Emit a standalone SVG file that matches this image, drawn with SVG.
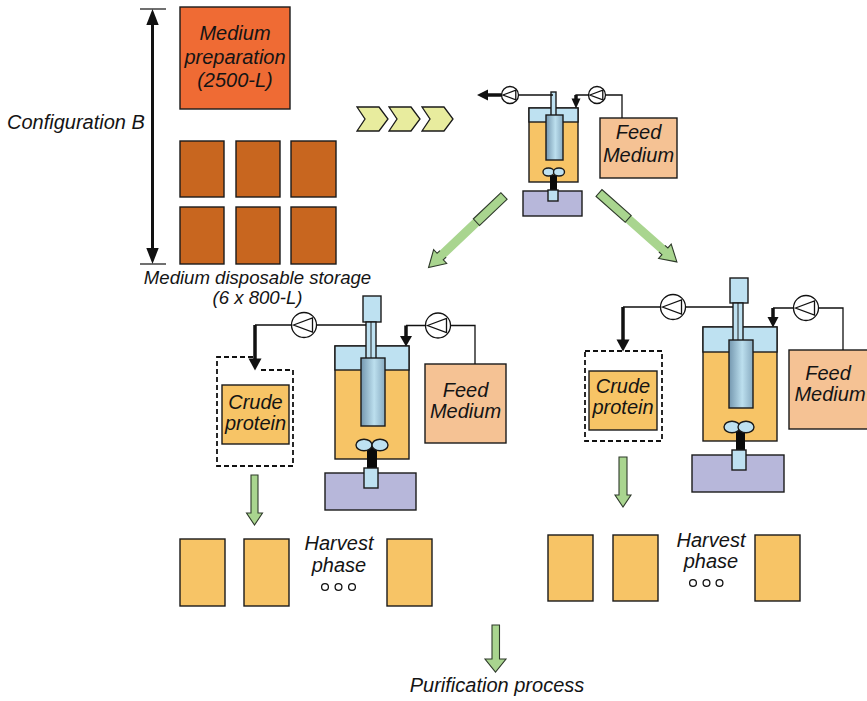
<svg xmlns="http://www.w3.org/2000/svg" xmlns:xlink="http://www.w3.org/1999/xlink" width="867" height="701" viewBox="0 0 867 701">
  <style>
    .lbl { font-family: "Liberation Sans", Arial, sans-serif; font-style: italic; font-size: 20px; fill: #141414; }
    .mid { text-anchor: middle; }
    .box { stroke: #1a1a1a; stroke-width: 1.4; }
    .prep { fill: #EF6B34; }
    .tank { fill: #C8661F; }
    .orange { fill: #F7C466; }
    .head { fill: #BEE1F1; }
    .feed { fill: #F5C294; }
    .base { fill: #B7B7DA; }
    .lb { fill: #BEE1F1; }
    .shaft { fill: #0a0a0a; }
    .thin { fill: none; stroke: #111; stroke-width: 1.3; }
    .thick { fill: none; stroke: #111; stroke-width: 3.5; }
    .dash { fill: none; stroke: #111; stroke-width: 1.8; stroke-dasharray: 5 3; }
    .green { fill: #A9D58F; }
    .gline { fill: none; stroke: #2e3a2a; stroke-width: 1.1; stroke-linejoin: miter; }
    .chev { fill: #E8EC9E; stroke: #1a1a1a; stroke-width: 1.3; }
    .pumpc { fill: #fff; stroke: #111; stroke-width: 1.3; vector-effect: non-scaling-stroke; }
    .pumpt { fill: none; stroke: #111; stroke-width: 1.3; vector-effect: non-scaling-stroke; }
  </style>
  <defs>
    <linearGradient id="probe" x1="0" y1="0" x2="1" y2="0">
      <stop offset="0" stop-color="#7497AF"/>
      <stop offset="0.55" stop-color="#BCDFEE"/>
      <stop offset="1" stop-color="#88ABC1"/>
    </linearGradient>
    <g id="pump">
      <circle r="12.5" class="pumpc"/>
      <path d="M-10.5,0 L8.5,-7 L8.5,7 Z" class="pumpt"/>
    </g>
    <path id="chevron" d="M0,0 H22 L31,12 L22,24 H0 L8,12 Z" class="chev"/>
  </defs>

  <!-- height bracket with label -->
  <g id="config-bracket">
    <line x1="140" y1="9" x2="166" y2="9" stroke="#111" stroke-width="1.2"/>
    <line x1="140" y1="264" x2="166" y2="264" stroke="#111" stroke-width="1.2"/>
    <line x1="152.5" y1="22" x2="152.5" y2="251" stroke="#111" stroke-width="3"/>
    <path d="M152.5,9 L146.3,25 L158.7,25 Z" fill="#111"/>
    <path d="M152.5,264 L146.3,248 L158.7,248 Z" fill="#111"/>
    <text class="lbl" x="7" y="129">Configuration B</text>
  </g>

  <!-- medium preparation tank -->
  <g id="medium-prep">
    <rect x="180" y="7" width="110" height="102" class="box prep"/>
    <text class="lbl mid" x="235" y="40">Medium</text>
    <text class="lbl mid" x="235" y="64">preparation</text>
    <text class="lbl mid" x="235" y="87">(2500-L)</text>
  </g>

  <!-- disposable storage bags -->
  <g id="storage-tanks">
    <rect x="180" y="141" width="44" height="56" class="box tank"/>
    <rect x="236" y="141" width="44" height="56" class="box tank"/>
    <rect x="291" y="141" width="45" height="56" class="box tank"/>
    <rect x="180" y="207" width="44" height="57" class="box tank"/>
    <rect x="236" y="207" width="44" height="57" class="box tank"/>
    <rect x="291" y="207" width="45" height="57" class="box tank"/>
    <text class="lbl mid" x="257.5" y="284" style="font-size:18.6px">Medium disposable storage</text>
    <text class="lbl mid" x="257.5" y="304" style="font-size:18.6px">(6 x 800-L)</text>
  </g>

  <!-- process flow chevrons -->
  <g id="chevrons">
    <use xlink:href="#chevron" x="357" y="107"/>
    <use xlink:href="#chevron" x="389" y="107"/>
    <use xlink:href="#chevron" x="422" y="107"/>
  </g>

  <!-- main bioreactor -->
  <g id="reactor-main">
    <rect x="529" y="108" width="49" height="74" class="box orange"/>
    <rect x="529" y="108" width="49" height="14" class="box head"/>
    <rect x="551" y="92" width="5" height="24" class="box lb" stroke-width="1"/>
    <rect x="546" y="115" width="17" height="45" class="box" fill="url(#probe)"/>
    <rect x="523" y="191" width="59" height="25" class="box base"/>
    <rect x="550" y="175" width="7" height="17" class="shaft"/>
    <rect x="548" y="190" width="10" height="11" class="box lb" stroke-width="1"/>
    <ellipse cx="548.5" cy="172" rx="5.5" ry="4" class="box lb" stroke-width="1"/>
    <ellipse cx="559" cy="172" rx="5.5" ry="4" class="box lb" stroke-width="1"/>
  </g>
  <g id="feed-main">
    <rect x="600" y="118" width="77" height="60" class="box feed"/>
    <text class="lbl mid" x="638.5" y="139">Feed</text>
    <text class="lbl mid" x="638.5" y="162">Medium</text>
  </g>

  <!-- left bioreactor -->
  <g id="reactor-left">
    <rect x="335" y="346" width="74" height="113" class="box orange"/>
    <rect x="335" y="346" width="74" height="24" class="box head"/>
    <rect x="363" y="296" width="18" height="26" class="box lb"/>
    <rect x="366" y="322" width="10" height="37" class="box lb"/>
    <line x1="371" y1="322" x2="371" y2="358" stroke="#111" stroke-width="0.9"/>
    <rect x="361" y="358" width="24" height="68" class="box" fill="url(#probe)"/>
    <rect x="325" y="473" width="91" height="37" class="box base"/>
    <rect x="367" y="447" width="10" height="23" class="shaft"/>
    <rect x="364" y="468" width="14" height="20" class="box lb"/>
    <ellipse cx="364" cy="445" rx="8" ry="5.8" class="box lb"/>
    <ellipse cx="380" cy="445" rx="8" ry="5.8" class="box lb"/>
  </g>
  <g id="feed-left">
    <rect x="425" y="364" width="81" height="79" class="box feed"/>
    <text class="lbl mid" x="465.5" y="397">Feed</text>
    <text class="lbl mid" x="465.5" y="418">Medium</text>
  </g>
  <g id="crude-left">
    <path d="M253,357 H217 V466 H293 V370 H258" class="dash"/>
    <rect x="222" y="385" width="67" height="59" class="box orange"/>
    <text class="lbl mid" x="255.5" y="409">Crude</text>
    <text class="lbl mid" x="255.5" y="430">protein</text>
  </g>

  <!-- right bioreactor -->
  <g id="reactor-right">
    <rect x="703" y="327" width="74" height="114" class="box orange"/>
    <rect x="703" y="327" width="74" height="25" class="box head"/>
    <rect x="730" y="278" width="18" height="25" class="box lb"/>
    <rect x="733" y="303" width="10" height="38" class="box lb"/>
    <line x1="738" y1="303" x2="738" y2="340" stroke="#111" stroke-width="0.9"/>
    <rect x="729" y="340" width="24" height="68" class="box" fill="url(#probe)"/>
    <rect x="692" y="455" width="92" height="37" class="box base"/>
    <rect x="736" y="430" width="9" height="22" class="shaft"/>
    <rect x="732" y="450" width="14" height="20" class="box lb"/>
    <ellipse cx="732" cy="427" rx="8" ry="5.8" class="box lb"/>
    <ellipse cx="746" cy="427" rx="8" ry="5.8" class="box lb"/>
  </g>
  <g id="feed-right">
    <rect x="789" y="350" width="80" height="79" class="box feed"/>
    <text class="lbl mid" x="828" y="380">Feed</text>
    <text class="lbl mid" x="830" y="401">Medium</text>
  </g>
  <g id="crude-right">
    <rect x="585" y="351" width="77" height="90" class="dash"/>
    <rect x="589" y="371" width="68" height="59" class="box orange"/>
    <text class="lbl mid" x="623" y="393">Crude</text>
    <text class="lbl mid" x="623" y="414">protein</text>
  </g>

  <!-- harvest tanks -->
  <g id="harvest-left">
    <rect x="180" y="539" width="45" height="67" class="box orange"/>
    <rect x="244" y="539" width="45" height="67" class="box orange"/>
    <rect x="387" y="539" width="45" height="67" class="box orange"/>
    <text class="lbl mid" x="339" y="550">Harvest</text>
    <text class="lbl mid" x="339" y="572">phase</text>
    <circle cx="325" cy="587" r="3.4" fill="none" stroke="#111" stroke-width="1.3"/>
    <circle cx="338.5" cy="587" r="3.4" fill="none" stroke="#111" stroke-width="1.3"/>
    <circle cx="352" cy="587" r="3.4" fill="none" stroke="#111" stroke-width="1.3"/>
  </g>
  <g id="harvest-right">
    <rect x="548" y="535" width="45" height="66" class="box orange"/>
    <rect x="613" y="535" width="45" height="66" class="box orange"/>
    <rect x="755" y="535" width="45" height="66" class="box orange"/>
    <text class="lbl mid" x="711" y="547">Harvest</text>
    <text class="lbl mid" x="711" y="568">phase</text>
    <circle cx="693" cy="583" r="3.4" fill="none" stroke="#111" stroke-width="1.3"/>
    <circle cx="706.5" cy="583" r="3.4" fill="none" stroke="#111" stroke-width="1.3"/>
    <circle cx="719.5" cy="583" r="3.4" fill="none" stroke="#111" stroke-width="1.3"/>
  </g>

  <g id="purification">
    <text class="lbl mid" x="497" y="692">Purification process</text>
  </g>

  <!-- piping, pumps and flow arrows -->
  <g id="connectors">
    <!-- main reactor lines -->
    <path d="M553,95 H518" class="thin"/>
    <path d="M502,95 H486" class="thick" stroke-width="3"/>
    <path d="M477,95 L488,89.5 L488,100.5 Z" fill="#111"/>
    <use xlink:href="#pump" transform="translate(510,95) scale(0.68)"/>
    <path d="M622,118 V95 H605 M589,95 H576 V99" class="thin"/>
    <path d="M576,95 V100" class="thick" stroke-width="2.5"/>
    <path d="M576,108.5 L571.5,98.5 L580.5,98.5 Z" fill="#111"/>
    <use xlink:href="#pump" transform="translate(597,95) scale(0.68)"/>

    <!-- left reactor lines -->
    <path d="M366,325 H316 M291.5,325 H255" class="thin"/>
    <path d="M255,325 V360" class="thick"/>
    <path d="M255,370.5 L248.5,358.5 L261.5,358.5 Z" fill="#111"/>
    <use xlink:href="#pump" transform="translate(304,325)"/>
    <path d="M475,364 V325.5 H450.5 M425.5,325.5 H406" class="thin"/>
    <path d="M406,325.5 V338" class="thick" stroke-width="3"/>
    <path d="M406,346.5 L400,336 L412,336 Z" fill="#111"/>
    <use xlink:href="#pump" transform="translate(438,325.5)"/>

    <!-- right reactor lines -->
    <path d="M733,307 H685.5 M660.5,307 H623" class="thin"/>
    <path d="M623,307 V341" class="thick"/>
    <path d="M623,351.5 L616.5,339.5 L629.5,339.5 Z" fill="#111"/>
    <use xlink:href="#pump" transform="translate(673,307)"/>
    <path d="M843,350 V308 H818.5 M793.5,308 H773" class="thin"/>
    <path d="M773,308 V319" class="thick" stroke-width="3"/>
    <path d="M773,327.5 L767.5,317 L778.5,317 Z" fill="#111"/>
    <use xlink:href="#pump" transform="translate(806,308)"/>

    <!-- diagonal transfer arrows -->
    <g transform="translate(504,196) rotate(136.5)">
      <path class="green" d="M0,-4.5 H88 V-9.5 L104,0 L88,9.5 V4.5 H0 Z"/>
      <rect x="0" y="-4.5" width="38" height="9" class="gline"/>
      <path class="gline" d="M84,-4.5 H88 V-9.5 L104,0 L88,9.5 V4.5 H84"/>
    </g>
    <g transform="translate(599,193) rotate(41.5)">
      <path class="green" d="M0,-4.5 H88 V-9.5 L104,0 L88,9.5 V4.5 H0 Z"/>
      <rect x="0" y="-4.5" width="39" height="9" class="gline"/>
      <path class="gline" d="M84,-4.5 H88 V-9.5 L104,0 L88,9.5 V4.5 H84"/>
    </g>

    <!-- downward harvest arrows -->
    <path class="green gline" style="fill:#A9D58F" d="M251,475 H258 V513 H262.5 L254.5,525 L246.5,513 H251 Z"/>
    <path class="green gline" style="fill:#A9D58F" d="M619,457 H627 V495 H631 L623,507 L615,495 H619 Z"/>
    <path class="green gline" style="fill:#A9D58F" d="M492,625 H499.5 V659 H506 L495.5,672 L485,659 H492 Z"/>
  </g>
</svg>
